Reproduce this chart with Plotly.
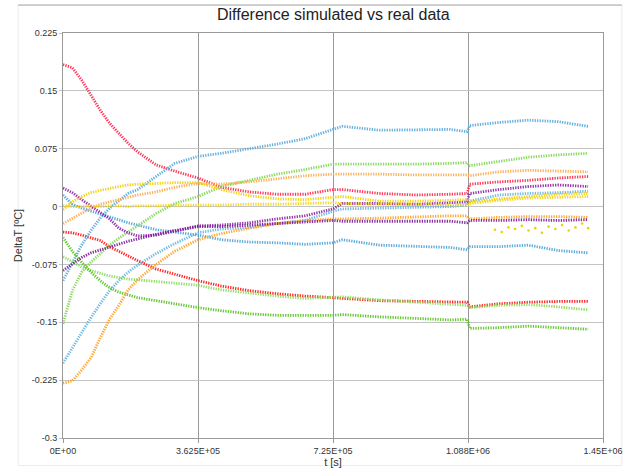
import plotly.graph_objects as go

# time knots [s]
t_s = [0, 2.5e4, 5e4, 7.5e4, 1e5, 1.25e5, 1.5e5, 1.75e5, 2e5, 2.5e5, 3e5, 3.625e5,
       4.25e5, 5e5, 5.75e5, 6.5e5, 7.25e5, 7.5e5, 8.5e5, 9.5e5, 1.04e6, 1.085e6,
       1.092e6, 1.17e6, 1.25e6, 1.33e6, 1.41e6]

red_top = [0.184, 0.180, 0.164, 0.145, 0.125, 0.108, 0.095, 0.082, 0.071, 0.054, 0.046, 0.037,
           0.025, 0.019, 0.016, 0.016, 0.022, 0.022, 0.017, 0.015, 0.016, 0.017,
           0.029, 0.032, 0.034, 0.037, 0.039]
red_low = [-0.033, -0.034, -0.037, -0.040, -0.044, -0.052, -0.058, -0.065, -0.070, -0.081, -0.088, -0.096,
           -0.103, -0.109, -0.113, -0.116, -0.118, -0.119, -0.122, -0.123, -0.124, -0.124,
           -0.130, -0.126, -0.124, -0.123, -0.123]
blue_a = [-0.096, -0.074, -0.050, -0.031, -0.015, -0.002, 0.008, 0.017, 0.022, 0.039, 0.056, 0.065,
          0.069, 0.075, 0.081, 0.088, 0.100, 0.104, 0.099, 0.100, 0.100, 0.097,
          0.105, 0.109, 0.112, 0.110, 0.104]
blue_b = [-0.203, -0.183, -0.163, -0.144, -0.126, -0.109, -0.096, -0.085, -0.076, -0.061, -0.048, -0.034,
          -0.029, -0.027, -0.022, -0.018, -0.006, -0.003, -0.002, -0.001, 0.000, 0.002,
          0.007, 0.015, 0.017, 0.018, 0.020]
blue_c = [0.015, 0.003, -0.002, -0.006, -0.010, -0.014, -0.017, -0.021, -0.024, -0.030, -0.033, -0.037,
          -0.043, -0.046, -0.047, -0.049, -0.047, -0.043, -0.050, -0.052, -0.053, -0.056,
          -0.052, -0.052, -0.050, -0.057, -0.060]
green_top = [-0.152, -0.109, -0.085, -0.072, -0.061, -0.050, -0.041, -0.033, -0.024, -0.009, 0.004, 0.013,
             0.026, 0.034, 0.042, 0.048, 0.055, 0.055, 0.055, 0.055, 0.056, 0.057,
             0.053, 0.058, 0.064, 0.067, 0.069]
green_mid = [-0.065, -0.072, -0.078, -0.083, -0.087, -0.090, -0.092, -0.094, -0.095, -0.097, -0.099, -0.102,
             -0.108, -0.112, -0.116, -0.119, -0.118, -0.117, -0.121, -0.124, -0.126, -0.128,
             -0.131, -0.128, -0.127, -0.130, -0.134]
green_low = [-0.040, -0.058, -0.072, -0.085, -0.096, -0.105, -0.111, -0.115, -0.118, -0.122, -0.126, -0.131,
             -0.135, -0.139, -0.141, -0.141, -0.141, -0.140, -0.143, -0.145, -0.147, -0.146,
             -0.158, -0.157, -0.155, -0.157, -0.159]
orange_top = [-0.022, -0.015, -0.009, -0.002, 0.003, 0.006, 0.009, 0.012, 0.015, 0.019, 0.025, 0.030,
              0.029, 0.032, 0.036, 0.040, 0.042, 0.042, 0.042, 0.041, 0.041, 0.041,
              0.040, 0.045, 0.047, 0.046, 0.045]
orange_low = [-0.229, -0.226, -0.212, -0.196, -0.170, -0.146, -0.128, -0.108, -0.095, -0.075, -0.058, -0.043,
              -0.035, -0.028, -0.022, -0.018, -0.016, -0.016, -0.015, -0.013, -0.012, -0.012,
              -0.016, -0.014, -0.013, -0.013, -0.014]
purple_top = [0.024, 0.018, 0.009, 0.001, -0.008, -0.016, -0.028, -0.034, -0.038, -0.037, -0.032, -0.025,
              -0.024, -0.021, -0.016, -0.012, -0.003, 0.004, 0.004, 0.003, 0.005, 0.006,
              0.017, 0.022, 0.026, 0.028, 0.026]
purple_low = [-0.083, -0.075, -0.066, -0.060, -0.056, -0.052, -0.049, -0.045, -0.042, -0.036, -0.031, -0.026,
              -0.026, -0.024, -0.022, -0.020, -0.018, -0.019, -0.019, -0.019, -0.019, -0.021,
              -0.018, -0.018, -0.017, -0.018, -0.017]
yellow_top = [-0.004, 0.006, 0.013, 0.018, 0.021, 0.024, 0.026, 0.028, 0.029, 0.030, 0.031, 0.031,
              0.022, 0.014, 0.010, 0.009, 0.012, 0.013, 0.007, 0.007, 0.008, 0.009,
              0.006, 0.010, 0.013, 0.016, 0.017]
yellow_flat = [0.001, 0.000, 0.000, 0.001, 0.000, 0.001, 0.001, 0.000, 0.001, 0.001, 0.002, 0.002,
               0.002, 0.003, 0.003, 0.004, 0.005, 0.004, 0.003, 0.003, 0.002, 0.002,
               0.004, 0.008, 0.011, 0.012, 0.013]
# scattered yellow points after the restart
t_y3 = [1.16e6, 1.178e6, 1.196e6, 1.214e6, 1.232e6, 1.25e6, 1.268e6, 1.286e6,
        1.304e6, 1.322e6, 1.34e6, 1.358e6, 1.376e6, 1.394e6, 1.41e6]
yellow_low = [-0.030, -0.033, -0.027, -0.029, -0.025, -0.031, -0.028, -0.034,
              -0.026, -0.029, -0.024, -0.031, -0.027, -0.022, -0.028]

series = [
    ("Sensor 1", red_top, "#ff2448"),
    ("Sensor 2", red_low, "#ff1010"),
    ("Sensor 3", blue_a, "#55a8dc"),
    ("Sensor 4", blue_b, "#66b2e2"),
    ("Sensor 5", blue_c, "#4ea2d8"),
    ("Sensor 6", green_top, "#7ed650"),
    ("Sensor 7", green_mid, "#88dc58"),
    ("Sensor 8", green_low, "#55c21c"),
    ("Sensor 9", orange_top, "#ffaa48"),
    ("Sensor 10", orange_low, "#ffa020"),
    ("Sensor 11", purple_top, "#8a1fa2"),
    ("Sensor 12", purple_low, "#7a1a98"),
    ("Sensor 13", yellow_top, "#f2d000"),
    ("Sensor 14", yellow_flat, "#f0d41a"),
]

fig = go.Figure()
for name, vals, col in series:
    fig.add_trace(go.Scatter(
        x=t_s, y=vals, mode="lines", name=name, showlegend=False,
        line=dict(color=col, width=2.8, dash="1.3px,1.2px"), opacity=0.9,
    ))
fig.add_trace(go.Scatter(
    x=t_y3, y=yellow_low, mode="markers", name="Sensor 15", showlegend=False,
    marker=dict(color="#f0d000", size=2.6),
))

x_ticks = [0, 362500, 725000, 1087500, 1450000]
x_labels = ["0E+00", "3.625E+05", "7.25E+05", "1.088E+06", "1.45E+06"]
y_ticks = [-0.3, -0.225, -0.15, -0.075, 0, 0.075, 0.15, 0.225]
y_labels = ["-0.3", "-0.225", "-0.15", "-0.075", "0", "0.075", "0.15", "0.225"]

font_family = "Liberation Sans, Arial, sans-serif"
fig.update_layout(
    width=629, height=470,
    margin=dict(l=63, r=26, t=33, b=32),
    paper_bgcolor="white", plot_bgcolor="white",
    title=dict(text="Difference simulated vs real data", x=0.53, xanchor="center",
               y=0.97, yanchor="middle",
               font=dict(family=font_family, size=16, color="#222")),
    font=dict(family=font_family, color="#333"),
    xaxis=dict(range=[0, 1450000], tickvals=x_ticks, ticktext=x_labels,
               showgrid=True, gridcolor="#999999", gridwidth=1, zeroline=False,
               showline=True, linecolor="#999999", mirror=True, automargin=False,
               ticks="outside", ticklen=4, tickcolor="#999999",
               tickfont=dict(size=9, color="#333"),
               title=dict(text="t [s]", font=dict(size=11, color="#333"), standoff=2)),
    yaxis=dict(range=[-0.3, 0.225], tickvals=y_ticks, ticktext=y_labels,
               showgrid=True, gridcolor="#c4c4c4", gridwidth=1.3, zeroline=False,
               showline=True, linecolor="#999999", mirror=True, automargin=False,
               ticks="outside", ticklen=3, tickcolor="#c4c4c4",
               tickfont=dict(size=9, color="#333"),
               title=dict(text="DeltaT [ºC]", font=dict(size=11, color="#333"), standoff=6)),
    shapes=[
        dict(type="rect", xref="paper", yref="paper", x0=-0.083, x1=1.035, y0=-0.068, y1=1.069,
             line=dict(color="#ececec", width=1), layer="below"),
        dict(type="line", xref="paper", yref="paper", x0=-0.083, x1=1.035, y0=1.069, y1=1.069,
             line=dict(color="#a8a8a8", width=1)),
    ],
)

fig.write_html("out.html")
